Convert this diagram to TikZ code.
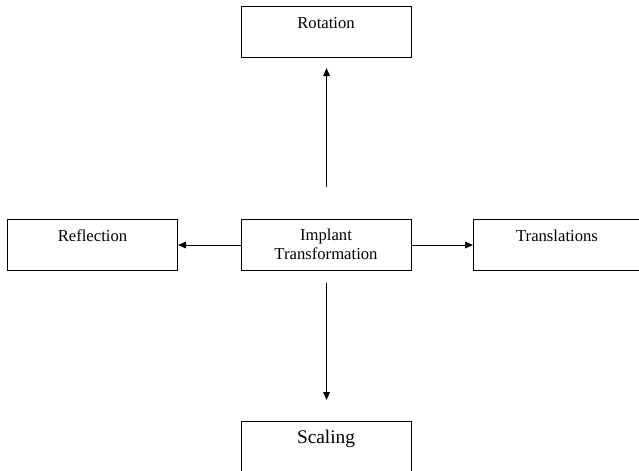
\documentclass[tikz,border=0pt]{standalone}
\usepackage{fontspec}
\setmainfont{Liberation Serif}
\usetikzlibrary{arrows.meta}
\begin{document}
\begin{tikzpicture}[x=0.75pt,y=-0.75pt,
  box/.style={draw=black,line width=0.8pt,minimum width=127.5pt,minimum height=38.25pt,inner sep=0pt,anchor=north west},
  lbl/.style={font=\fontsize{12.5}{14.5}\selectfont,align=center,inner sep=0pt},
  arr/.style={line width=0.8pt,-{Triangle[length=6pt,width=5pt]}}]
\useasboundingbox (0,0) rectangle (639,471);
\clip (0,0) rectangle (639,471);
\node[box] (rot) at (241,6) {};
\node[box] (cen) at (241,219) {};
\node[box] (ref) at (7,219) {};
\node[box,minimum width=124.5pt] (tra) at (473,219) {};
\node[box,minimum height=45pt] (sca) at (241,421) {};
\node[lbl] (trot) at (326,23) {Rotation};
\node[lbl] (tcen) at (326,244) {Implant\\Transformation};
\node[lbl] (tref) at (92.5,236) {Reflection};
\node[lbl] (ttra) at (557,236) {Translations};
\node[lbl,font=\fontsize{14.5}{16}\selectfont] (tsca) at (326,439) {Scaling};
\draw[arr,shorten <=24pt,shorten >=7.5pt] (cen.north) -- (rot.south);
\draw[arr,shorten <=9pt,shorten >=15.75pt] (cen.south) -- (sca.north);
\draw[arr] (cen.west) -- (ref.east);
\draw[arr] (cen.east) -- (tra.west);
\end{tikzpicture}
\end{document}
